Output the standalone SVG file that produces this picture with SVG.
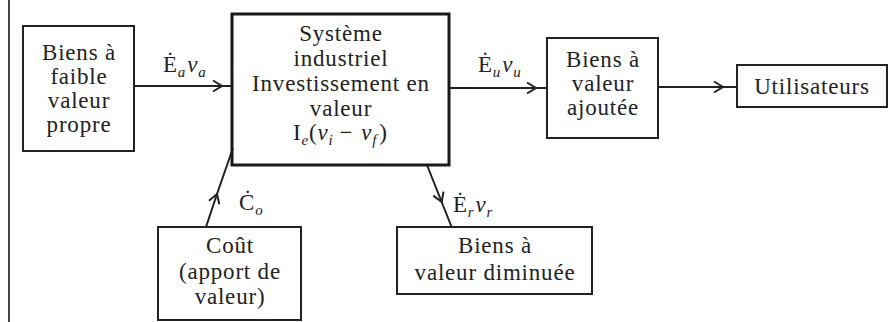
<svg xmlns="http://www.w3.org/2000/svg" width="890" height="322" viewBox="0 0 890 322">
<style>
.box{fill:none;stroke:#222;stroke-width:2}
.main{fill:none;stroke:#1a1a1a;stroke-width:3}
.t{font-family:"Liberation Serif","Times New Roman",serif;font-size:23px;letter-spacing:0.8px;fill:#222;text-anchor:middle}
.m{font-family:"Liberation Serif","Times New Roman",serif;font-size:23px;fill:#222;letter-spacing:0.8px}
.i{font-style:italic}
.s{font-style:italic;font-size:15px}
.c{fill:none;stroke:#222;stroke-width:2}
</style>
<defs>
<marker id="chev" viewBox="-11 -7 13 14" markerWidth="13" markerHeight="14" refX="0" refY="0" orient="auto" markerUnits="userSpaceOnUse">
<path d="M-9,-5.5 L0,0 L-9,5.5" fill="none" stroke="#222" stroke-width="2"/>
</marker>
</defs>
<rect width="890" height="322" fill="#fff"/>
<line x1="9" y1="0" x2="9" y2="322" stroke="#444" stroke-width="2"/>

<g id="connectors">
<path class="c" d="M134,86 L222,86 L232,86" marker-mid="url(#chev)"/>
<path class="c" d="M449,88 L536,88 L547,88" marker-mid="url(#chev)"/>
<path class="c" d="M658,87 L723,87 L737,87" marker-mid="url(#chev)"/>
<path class="c" d="M206,227 L217,194 L233,148" marker-mid="url(#chev)"/>
<path class="c" d="M427,165 L441.7,202 L452,228" marker-mid="url(#chev)"/>
<text class="m" x="163" y="72">Ė<tspan class="s" dy="5">a</tspan><tspan class="i" dx="1" dy="-5">v</tspan><tspan class="s" dy="5">a</tspan></text>
<text class="m" x="478" y="72">Ė<tspan class="s" dy="5">u</tspan><tspan class="i" dx="1" dy="-5">v</tspan><tspan class="s" dy="5">u</tspan></text>
<text class="m" x="239" y="210">Ċ<tspan class="s" dy="5">o</tspan></text>
<text class="m" x="453" y="212">Ė<tspan class="s" dy="5">r</tspan><tspan class="i" dx="1" dy="-5">v</tspan><tspan class="s" dy="5">r</tspan></text>
</g>

<g id="n-faible">
<rect class="box" x="23" y="26" width="111" height="125"/>
<text class="t" x="79" y="60">Biens à</text>
<text class="t" x="79" y="84">faible</text>
<text class="t" x="79" y="108">valeur</text>
<text class="t" x="79" y="132">propre</text>
</g>

<g id="n-systeme">
<rect class="main" x="232" y="14" width="217" height="151"/>
<text class="t" x="341" y="41">Système</text>
<text class="t" x="341" y="66">industriel</text>
<text class="t" x="341" y="91">Investissement en</text>
<text class="t" x="341" y="116">valeur</text>
<text class="m" x="293" y="140">I<tspan class="s" dy="5">e</tspan><tspan dy="-5">(</tspan><tspan class="i">v</tspan><tspan class="s" dy="5">i</tspan><tspan dx="6" dy="-5">−</tspan><tspan class="i" dx="8">v</tspan><tspan class="s" dy="5">f</tspan><tspan dx="2" dy="-5">)</tspan></text>
</g>

<g id="n-ajoutee">
<rect class="box" x="547" y="38" width="111" height="100"/>
<text class="t" x="603" y="67">Biens à</text>
<text class="t" x="603" y="91">valeur</text>
<text class="t" x="603" y="115">ajoutée</text>
</g>

<g id="n-utilisateurs">
<rect class="box" x="737" y="65" width="150" height="42"/>
<text class="t" x="812" y="94">Utilisateurs</text>
</g>

<g id="n-cout">
<rect class="box" x="158" y="227" width="143" height="93"/>
<text class="t" x="230" y="253">Coût</text>
<text class="t" x="230" y="279">(apport de</text>
<text class="t" x="230" y="304">valeur)</text>
</g>

<g id="n-diminuee">
<rect class="box" x="397" y="227" width="195" height="67"/>
<text class="t" x="495" y="253">Biens à</text>
<text class="t" x="495" y="280">valeur diminuée</text>
</g>
</svg>
